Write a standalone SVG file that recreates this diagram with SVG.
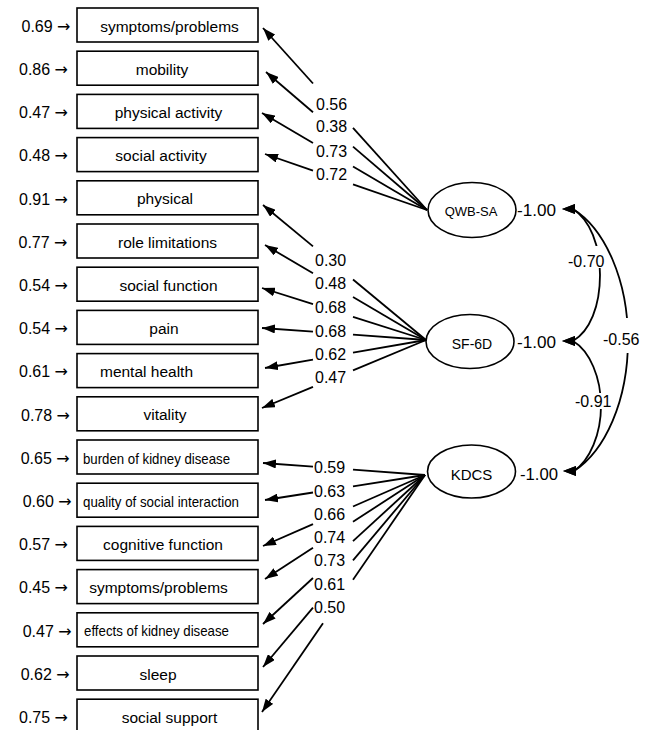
<svg xmlns="http://www.w3.org/2000/svg" width="649" height="730" viewBox="0 0 649 730">
<defs>
<style>
text{font-family:"Liberation Sans",Arial,sans-serif;fill:#000}
.box{fill:#fff;stroke:#000;stroke-width:1.6}
.bt{font-size:15.5px;text-anchor:middle}
.bc{font-size:15px}
.err{font-size:16px}
.arw{font-family:"DejaVu Sans",sans-serif;font-size:16px}
.num{font-size:16px}
.lat{fill:#fff;stroke:#000;stroke-width:1.6}
.ln{fill:none;stroke:#000;stroke-width:1.8}
.ar{marker-end:url(#ah)}
.gap{fill:#fff;stroke:none}
</style>
<marker id="ah" markerUnits="userSpaceOnUse" viewBox="0 0 13 9" markerWidth="13" markerHeight="9" refX="13" refY="4.5" orient="auto"><path d="M0,0 L13,4.5 L0,9 z" fill="#000"/></marker>
<marker id="al" markerUnits="userSpaceOnUse" viewBox="0 0 13 10" markerWidth="13" markerHeight="10" refX="11" refY="5" orient="0"><path d="M0,5 L13,0 L13,10 z" fill="#000"/></marker>
</defs>
<rect width="649" height="730" fill="#fff"/>

<!-- observed indicators -->
<g id="n-qwb-symptoms"><rect class="box" x="77" y="8" width="181" height="34"/><text class="bt" x="169.5" y="31.5">symptoms/problems</text><text class="err" x="21.5" y="32">0.69 <tspan class="arw">→</tspan></text></g>
<g id="n-mobility"><rect class="box" x="77" y="51.2" width="181" height="34"/><text class="bt" x="162" y="74.7">mobility</text><text class="err" x="19" y="75">0.86 <tspan class="arw">→</tspan></text></g>
<g id="n-physical-activity"><rect class="box" x="77" y="94.4" width="181" height="34"/><text class="bt" x="168.5" y="117.9">physical activity</text><text class="err" x="19" y="118">0.47 <tspan class="arw">→</tspan></text></g>
<g id="n-social-activity"><rect class="box" x="77" y="137.6" width="181" height="34"/><text class="bt" x="161" y="161.1">social activity</text><text class="err" x="19" y="161">0.48 <tspan class="arw">→</tspan></text></g>
<g id="n-physical"><rect class="box" x="77" y="180.8" width="181" height="34"/><text class="bt" x="165" y="204.3">physical</text><text class="err" x="19" y="204.5">0.91 <tspan class="arw">→</tspan></text></g>
<g id="n-role-limitations"><rect class="box" x="77" y="224" width="181" height="34"/><text class="bt" x="167.5" y="247.5">role limitations</text><text class="err" x="18.5" y="247.5">0.77 <tspan class="arw">→</tspan></text></g>
<g id="n-social-function"><rect class="box" x="77" y="267.2" width="181" height="34"/><text class="bt" x="168.5" y="290.7">social function</text><text class="err" x="19" y="291">0.54 <tspan class="arw">→</tspan></text></g>
<g id="n-pain"><rect class="box" x="77" y="310.4" width="181" height="34"/><text class="bt" x="164" y="333.9">pain</text><text class="err" x="19" y="334">0.54 <tspan class="arw">→</tspan></text></g>
<g id="n-mental-health"><rect class="box" x="77" y="353.6" width="181" height="34"/><text class="bt" x="146.5" y="377.1">mental health</text><text class="err" x="19" y="377">0.61 <tspan class="arw">→</tspan></text></g>
<g id="n-vitality"><rect class="box" x="77" y="396.8" width="181" height="34"/><text class="bt" x="165" y="420.3">vitality</text><text class="err" x="21" y="420.5">0.78 <tspan class="arw">→</tspan></text></g>
<g id="n-burden"><rect class="box" x="77" y="440" width="181" height="34"/><text class="bc" x="83" y="463.5" textLength="147" lengthAdjust="spacingAndGlyphs">burden of kidney disease</text><text class="err" x="20.7" y="463.5">0.65 <tspan class="arw">→</tspan></text></g>
<g id="n-quality"><rect class="box" x="77" y="483.2" width="181" height="34"/><text class="bc" x="83" y="506.7" textLength="156" lengthAdjust="spacingAndGlyphs">quality of social interaction</text><text class="err" x="22.7" y="507">0.60 <tspan class="arw">→</tspan></text></g>
<g id="n-cognitive"><rect class="box" x="77" y="526.4" width="181" height="34"/><text class="bt" x="163" y="549.9">cognitive function</text><text class="err" x="19" y="550">0.57 <tspan class="arw">→</tspan></text></g>
<g id="n-kdcs-symptoms"><rect class="box" x="77" y="569.6" width="181" height="34"/><text class="bt" x="158.5" y="593.1">symptoms/problems</text><text class="err" x="19" y="593">0.45 <tspan class="arw">→</tspan></text></g>
<g id="n-effects"><rect class="box" x="77" y="612.8" width="181" height="34"/><text class="bc" x="84" y="636.3" textLength="145" lengthAdjust="spacingAndGlyphs">effects of kidney disease</text><text class="err" x="22.7" y="636.5">0.47 <tspan class="arw">→</tspan></text></g>
<g id="n-sleep"><rect class="box" x="77" y="656" width="181" height="34"/><text class="bt" x="158" y="679.5">sleep</text><text class="err" x="20.7" y="679.5">0.62 <tspan class="arw">→</tspan></text></g>
<g id="n-social-support"><rect class="box" x="77" y="699.2" width="181" height="34"/><text class="bt" x="169.5" y="722.7">social support</text><text class="err" x="19" y="723">0.75 <tspan class="arw">→</tspan></text></g>

<!-- latent factors -->
<g id="n-qwbsa"><ellipse class="lat" cx="472" cy="210" rx="44" ry="27.5"/><text x="471" y="216" style="font-size:13px;text-anchor:middle">QWB-SA</text><text class="num" x="517" y="216" textLength="39" lengthAdjust="spacingAndGlyphs">-1.00</text></g>
<g id="n-sf6d"><ellipse class="lat" cx="470" cy="341.5" rx="44" ry="27"/><text x="472" y="349" style="font-size:14px;text-anchor:middle">SF-6D</text><text class="num" x="517" y="348" textLength="39" lengthAdjust="spacingAndGlyphs">-1.00</text></g>
<g id="n-kdcs"><ellipse class="lat" cx="471.5" cy="471.5" rx="44" ry="26.5"/><text x="471.5" y="480" style="font-size:15px;text-anchor:middle">KDCS</text><text class="num" x="520" y="480" textLength="38" lengthAdjust="spacingAndGlyphs">-1.00</text></g>

<!-- connectors -->
<g id="connectors">
  <!-- QWB-SA loadings -->
  <path class="ln" d="M427,210 L353,127.9"/><path class="ln ar" d="M313,83.5 L263,28"/>
  <path class="ln" d="M427,210 L353,146.6"/><path class="ln ar" d="M313,112.3 L266,72"/>
  <path class="ln" d="M427,210 L353,166.5"/><path class="ln ar" d="M313,143 L262,113"/>
  <path class="ln" d="M427,210 L353,184.4"/><path class="ln ar" d="M313,170.6 L265,154"/>
  <text class="num" x="316" y="110">0.56</text>
  <text class="num" x="316" y="132">0.38</text>
  <text class="num" x="316" y="157">0.73</text>
  <text class="num" x="316" y="180">0.72</text>
  <!-- SF-6D loadings -->
  <path class="ln" d="M426,340 L353,279.5"/><path class="ln ar" d="M313,246.4 L263,205"/>
  <path class="ln" d="M426,340 L353,296.9"/><path class="ln ar" d="M313,273.3 L265,245"/>
  <path class="ln" d="M426,340 L353,316.9"/><path class="ln ar" d="M313,304.2 L262,288"/>
  <path class="ln" d="M426,340 L353,334.7"/><path class="ln ar" d="M313,331.7 L262,328"/>
  <path class="ln" d="M426,340 L353,352.7"/><path class="ln ar" d="M313,359.7 L265,368"/>
  <path class="ln" d="M426,340 L353,370.3"/><path class="ln ar" d="M313,386.9 L262,408"/>
  <text class="num" x="315" y="266">0.30</text>
  <text class="num" x="315" y="289">0.48</text>
  <text class="num" x="315" y="313">0.68</text>
  <text class="num" x="315" y="337">0.68</text>
  <text class="num" x="315" y="360">0.62</text>
  <text class="num" x="315" y="383">0.47</text>
  <!-- KDCS loadings -->
  <path class="ln" d="M425,475 L353,469.7"/><path class="ln ar" d="M313,466.7 L263,463"/>
  <path class="ln" d="M425,475 L353,486.3"/><path class="ln ar" d="M313,492.5 L265,500"/>
  <path class="ln" d="M425,475 L353,506.5"/><path class="ln ar" d="M313,524.1 L263,546"/>
  <path class="ln" d="M425,475 L353,521.8"/><path class="ln ar" d="M313,547.8 L265,579"/>
  <path class="ln" d="M425,475 L353,541.2"/><path class="ln ar" d="M313,578 L263,624"/>
  <path class="ln" d="M425,475 L353,560.3"/><path class="ln ar" d="M313,607.7 L263,667"/>
  <path class="ln" d="M425,475 L353,579.7"/><path class="ln ar" d="M323,623.3 L262,712"/>
  <text class="num" x="314" y="473">0.59</text>
  <text class="num" x="314" y="497">0.63</text>
  <text class="num" x="314" y="520">0.66</text>
  <text class="num" x="314" y="543">0.74</text>
  <text class="num" x="314" y="566">0.73</text>
  <text class="num" x="314" y="590">0.61</text>
  <text class="num" x="314" y="613">0.50</text>
  <!-- correlations -->
  <path class="ln" d="M573,209 C605,229 628,280 628,340 C628,401 605,451 574,471" marker-start="url(#al)" marker-end="url(#al)"/>
  <path class="ln" d="M573,209 C590,220 600,245 600,275 C600,306 590,331 573,341" marker-start="url(#al)" marker-end="url(#al)"/>
  <path class="ln" d="M573,341 C590,351 601,378 601,406 C601,434 590,460 574,471" marker-start="url(#al)" marker-end="url(#al)"/>
  <rect class="gap" x="567" y="246" width="38" height="22"/>
  <rect class="gap" x="602" y="318" width="40" height="35"/>
  <rect class="gap" x="574" y="393" width="39" height="16"/>
  <text class="num" x="568" y="266.5">-0.70</text>
  <text class="num" x="603" y="344.5">-0.56</text>
  <text class="num" x="575" y="407">-0.91</text>
</g>
</svg>
